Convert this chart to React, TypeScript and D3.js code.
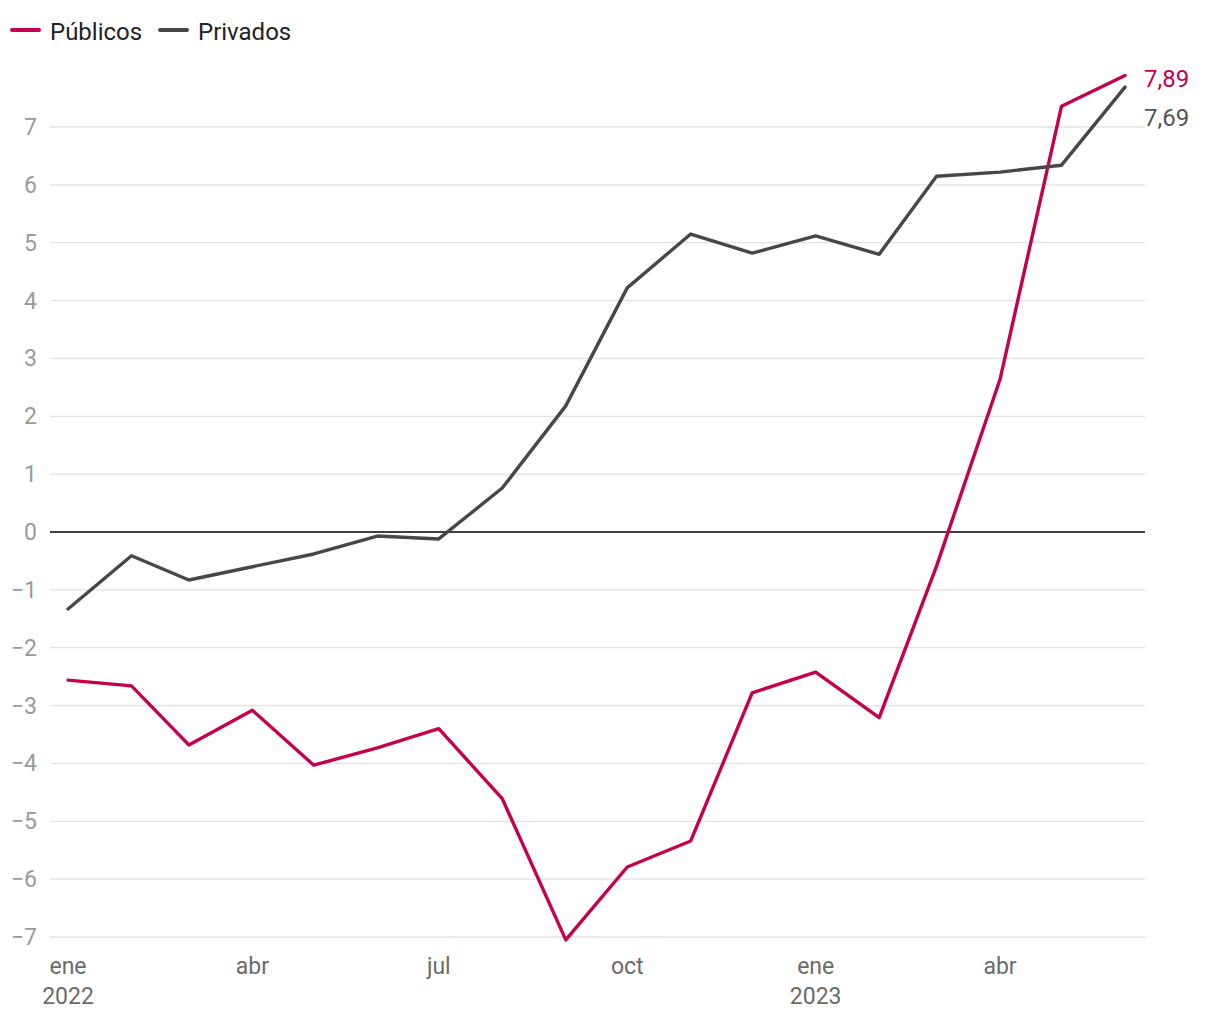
import React from "react";
import * as d3 from "d3";

const months: string[] = [
  "2022-01", "2022-02", "2022-03", "2022-04", "2022-05", "2022-06",
  "2022-07", "2022-08", "2022-09", "2022-10", "2022-11", "2022-12",
  "2023-01", "2023-02", "2023-03", "2023-04", "2023-05", "2023-06",
];
const publicos: number[] = [
  -2.56, -2.66, -3.68, -3.08, -4.03, -3.73, -3.4, -4.61, -7.05, -5.79, -5.34, -2.78,
  -2.42, -3.21, -0.59, 2.64, 7.36, 7.89,
];
const privados: number[] = [
  -1.33, -0.41, -0.83, -0.6, -0.38, -0.07, -0.12, 0.76, 2.18, 4.22, 5.15, 4.82,
  5.12, 4.8, 6.15, 6.22, 6.34, 7.69,
];
const yTicks: number[] = [-7, -6, -5, -4, -3, -2, -1, 0, 1, 2, 3, 4, 5, 6, 7];
const xTickMonths: string[] = ["2022-01", "2022-04", "2022-07", "2022-10", "2023-01", "2023-04"];
const xTickLabels: string[] = ["ene", "abr", "jul", "oct", "ene", "abr"];
const xTickYears: string[] = ["2022", "", "", "", "2023", ""];
const seriesNames: string[] = ["Públicos", "Privados"];
const seriesColors: string[] = ["#c5004f", "#474747"];
const endLabelColors: string[] = ["#c5004f", "#555555"];

const parse = d3.timeParse("%Y-%m");
const fmt = (v: number) => v.toFixed(2).replace(".", ",");

export default function App() {
  const W = 1220;
  const H = 1020;
  const dates = months.map((m) => parse(m) as Date);
  const x = d3.scaleTime().domain([dates[0], dates[dates.length - 1]]).range([68, 1125]);
  const y = d3.scaleLinear().domain([-7, 7]).range([937, 127]);
  const gridX0 = 50;
  const gridX1 = 1145;
  const line = d3
    .line<number>()
    .x((_, i) => x(dates[i]))
    .y((d) => y(d));
  const series = [publicos, privados];
  const font = "Roboto, 'Noto Sans', sans-serif";

  return (
    <svg width={W} height={H} style={{ display: "block", position: "absolute", left: 0, top: 0 }} fontFamily={font}>
      <rect width={W} height={H} fill="#fff" />
      {/* legend */}
      <g>
        <line x1={12} y1={30} x2={39} y2={30} stroke={seriesColors[0]} strokeWidth={4} strokeLinecap="round" />
        <text x={50} y={40} fontSize={24} fill="#222">{seriesNames[0]}</text>
        <line x1={160} y1={30} x2={187} y2={30} stroke={seriesColors[1]} strokeWidth={4} strokeLinecap="round" />
        <text x={198} y={40} fontSize={24} fill="#222">{seriesNames[1]}</text>
      </g>
      {/* grid */}
      {yTicks.map((t) => (
        <g key={t}>
          <line
            x1={gridX0}
            x2={gridX1}
            y1={y(t)}
            y2={y(t)}
            stroke={t === 0 ? "#000" : "#e2e2e2"}
            strokeWidth={t === 0 ? 1.5 : 1.3}
          />
          <text x={37} y={y(t)} dy="0.35em" textAnchor="end" fontSize={23} fill="#9a9a9a">
            {t < 0 ? "\u2212" + Math.abs(t) : String(t)}
          </text>
        </g>
      ))}
      {/* x ticks */}
      {xTickMonths.map((m, i) => {
        const xx = x(parse(m) as Date);
        return (
          <g key={m}>
            <text x={xx} y={974} textAnchor="middle" fontSize={23} fill="#6b6b6b">{xTickLabels[i]}</text>
            {xTickYears[i] && (
              <text x={xx} y={1004} textAnchor="middle" fontSize={23} fill="#6b6b6b">{xTickYears[i]}</text>
            )}
          </g>
        );
      })}
      {/* lines */}
      {series.map((s, si) => (
        <path
          key={si}
          d={line(s) || ""}
          fill="none"
          stroke={seriesColors[si]}
          strokeWidth={3.4}
          strokeLinejoin="round"
          strokeLinecap="round"
        />
      ))}
      {/* end labels */}
      <text x={1144} y={87} fontSize={24} fill={endLabelColors[0]}>{fmt(publicos[publicos.length - 1])}</text>
      <text x={1144} y={126} fontSize={24} fill={endLabelColors[1]}>{fmt(privados[privados.length - 1])}</text>
    </svg>
  );
}
